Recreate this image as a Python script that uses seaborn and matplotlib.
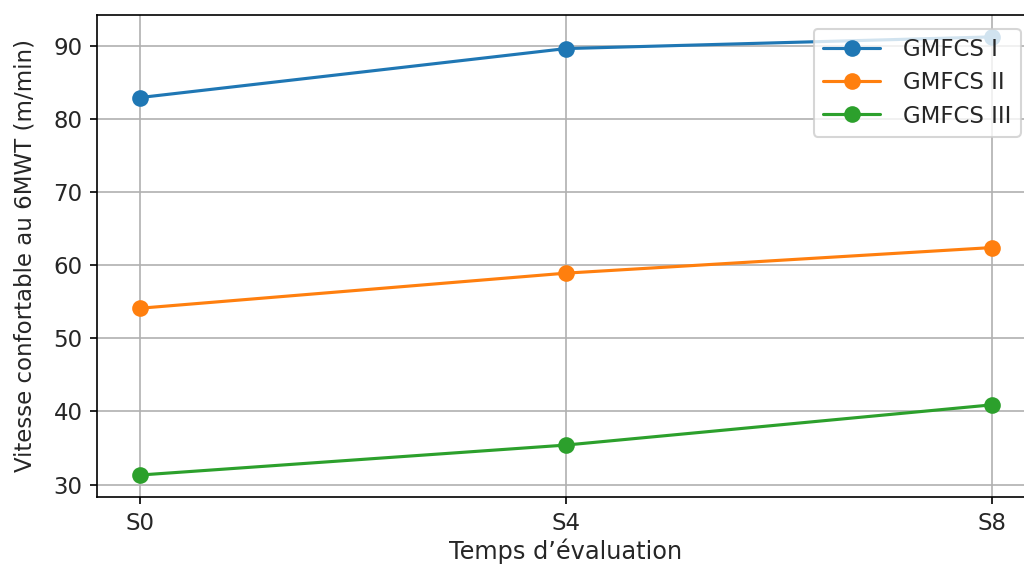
import matplotlib
matplotlib.use("Agg")
import matplotlib.pyplot as plt
import seaborn as sns
import pandas as pd

# Évaluations et vitesses moyennes par niveau GMFCS
temps = ["S0", "S4", "S8"]
groupes = ["GMFCS I", "GMFCS II", "GMFCS III"]
gmfcs_1 = [82.9, 89.6, 91.2]
gmfcs_2 = [54.1, 58.9, 62.4]
gmfcs_3 = [31.3, 35.4, 40.9]
couleurs = ["#1f77b4", "#ff7f0e", "#2ca02c"]

df = pd.DataFrame({
    "temps": temps * 3,
    "vitesse": gmfcs_1 + gmfcs_2 + gmfcs_3,
    "groupe": [g for g in groupes for _ in temps],
})

sns.set_style("ticks")
plt.rcParams["font.family"] = ["DejaVu Sans"]

fig = plt.figure(figsize=(1024 / 150, 565 / 150), dpi=150)
ax = fig.add_axes([0.0947, 0.1204, 0.9156, 0.8531])

sns.lineplot(data=df, x="temps", y="vitesse", hue="groupe", hue_order=groupes,
             palette=couleurs, marker="o", markersize=8, markeredgewidth=0,
             linewidth=1.5, ax=ax)

ax.grid(True, color="#b0b0b0", linewidth=0.8)
ax.set_axisbelow(True)
for s in ax.spines.values():
    s.set_color("black")
    s.set_linewidth(0.8)
ax.tick_params(axis="both", direction="out", length=3.5, width=0.8, colors="black",
               labelsize=11, labelcolor="#262626")
ax.set_xlabel("Temps d’évaluation", fontsize=11.5, color="#262626", labelpad=2)
ax.set_ylabel("Vitesse confortable au 6MWT (m/min)", fontsize=11, color="#262626",
              labelpad=8)
ax.margins(x=0.05, y=0.05)

leg = ax.legend(loc="upper right", fontsize=11, frameon=True, framealpha=0.8,
                edgecolor="#cccccc", handlelength=2.5, handletextpad=1.0,
                borderaxespad=0.6, labelspacing=0.45)
for t in leg.get_texts():
    t.set_color("#262626")

fig.savefig("out.png", dpi=150)
